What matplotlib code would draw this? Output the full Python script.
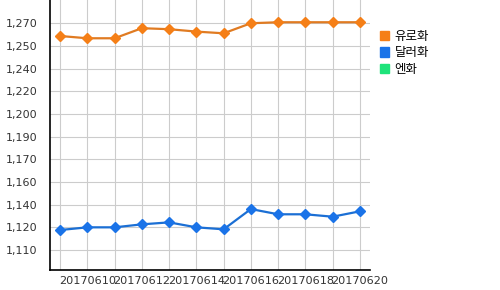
import numpy as np
import matplotlib.pyplot as plt
from matplotlib.patches import Patch

plt.rcParams['font.family'] = ['DejaVu Sans', 'Noto Sans CJK KR']

dates = ['20170609', '20170610', '20170611', '20170612', '20170613', '20170614',
         '20170615', '20170616', '20170617', '20170618', '20170619', '20170620']
eur = [1261.0, 1259.4, 1259.4, 1266.5, 1265.8, 1264.1,
       1262.9, 1270.0, 1270.7, 1270.7, 1270.7, 1270.7]
usd = [1124.1, 1126.0, 1126.0, 1128.1, 1129.5, 1126.0,
       1124.6, 1138.9, 1135.2, 1135.2, 1133.5, 1137.3]
series_names = ['유로화', '달러화', '엔화']
series_colors = ['#f57f17', '#1a73e8', '#1ee37a']
ytick_labels = ['1,110', '1,120', '1,140', '1,160', '1,170', '1,190',
                '1,200', '1,220', '1,240', '1,250', '1,270']

fig = plt.figure(figsize=(5, 2.9), dpi=100)
ax = fig.add_axes([0.10, 0.069, 0.64, 0.931])

x = np.arange(len(dates))
ax.plot(x, eur, color='#e07b22', lw=1.6, marker='D', ms=5.2,
        mfc=series_colors[0], mec=series_colors[0], zorder=3)
ax.plot(x, usd, color='#1b6fd4', lw=1.6, marker='D', ms=5.2,
        mfc=series_colors[1], mec=series_colors[1], zorder=3)

yt = 1110 + 16 * np.arange(len(ytick_labels))
ax.set_yticks(yt)
ax.set_yticklabels(ytick_labels)
ax.set_ylim(1095.9, 1286.4)
ax.set_xlim(-0.37, len(dates) - 1 + 0.37)
ax.set_xticks(x, minor=True)
ax.set_xticks(x[1::2])
ax.set_xticklabels(dates[1::2])

ax.grid(True, which='both', color='#cccccc', lw=0.8)
ax.set_axisbelow(True)
ax.tick_params(which='both', length=0, labelsize=8, colors='#333333', pad=5)
ax.tick_params(axis='x', labelsize=8.1, pad=4)
ax.tick_params(axis='y', pad=9)
for s in ['top', 'right']:
    ax.spines[s].set_visible(False)
for s in ['left', 'bottom']:
    ax.spines[s].set_color('black')
    ax.spines[s].set_linewidth(1.2)

handles = [Patch(color=c) for c in series_colors]
fig.legend(handles, series_names, loc='upper left', bbox_to_anchor=(0.75, 0.915),
           frameon=False, handlelength=0.75, handleheight=0.75, handletextpad=0.4,
           labelspacing=0.3, borderaxespad=0,
           prop={'family': ['Noto Sans CJK KR'], 'size': 9})

fig.savefig('out.png', dpi=100)
